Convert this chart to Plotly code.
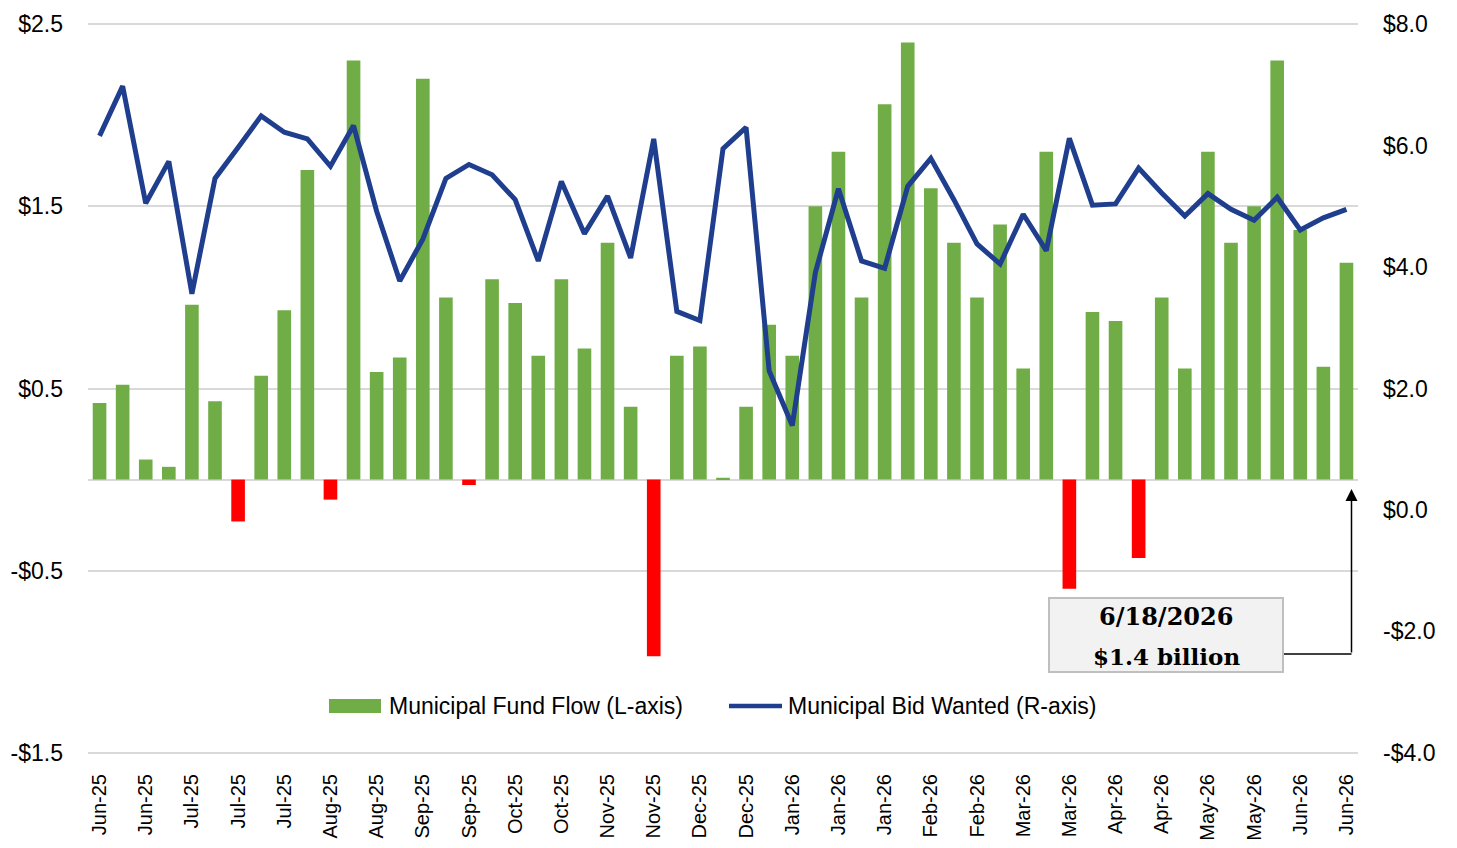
import plotly.graph_objects as go

# ---------------- data ----------------
fund_flow = [0.42, 0.52, 0.11, 0.07, 0.96, 0.43, -0.23, 0.57, 0.93, 1.70,
             -0.11, 2.30, 0.59, 0.67, 2.20, 1.00, -0.03, 1.10, 0.97, 0.68,
             1.10, 0.72, 1.30, 0.40, -0.97, 0.68, 0.73, 0.01, 0.40, 0.85,
             0.68, 1.50, 1.80, 1.00, 2.06, 2.40, 1.60, 1.30, 1.00, 1.40,
             0.61, 1.80, -0.60, 0.92, 0.87, -0.43, 1.00, 0.61, 1.80, 1.30,
             1.50, 2.30, 1.37, 0.62, 1.19]
bid_wanted = [6.16, 6.98, 5.05, 5.74, 3.56, 5.46, 5.97, 6.49, 6.22, 6.11,
              5.66, 6.33, 4.92, 3.77, 4.46, 5.46, 5.69, 5.52, 5.11, 4.10,
              5.41, 4.55, 5.17, 4.15, 6.11, 3.27, 3.12, 5.95, 6.30, 2.29,
              1.39, 3.91, 5.29, 4.10, 3.98, 5.33, 5.79, 5.11, 4.38, 4.05,
              4.87, 4.27, 6.12, 5.02, 5.04, 5.63, 5.22, 4.84, 5.21, 4.95,
              4.77, 5.15, 4.61, 4.81, 4.95]
tick_labels = ["Jun-25", "Jun-25", "Jul-25", "Jul-25", "Jul-25", "Aug-25", "Aug-25",
               "Sep-25", "Sep-25", "Oct-25", "Oct-25", "Nov-25", "Nov-25", "Dec-25",
               "Dec-25", "Jan-26", "Jan-26", "Jan-26", "Feb-26", "Feb-26", "Mar-26",
               "Mar-26", "Apr-26", "Apr-26", "May-26", "May-26", "Jun-26", "Jun-26"]
left_ticks = [-1.5, -0.5, 0.5, 1.5, 2.5]
right_ticks = [-4, -2, 0, 2, 4, 6, 8]
annot_date = "6/18/2026"
annot_value = "$1.4 billion"
series_names = ["Municipal Fund Flow (L-axis)", "Municipal Bid Wanted (R-axis)"]

# ---------------- styling ----------------
GREEN = "#70AD47"
RED = "#FF0000"
BLUE = "#1F3E8E"
GRID = "#D9D9D9"
SANS = "Liberation Sans, Arial, sans-serif"
SERIF = "DejaVu Serif, Liberation Serif, serif"

OFF = 8                      # default body margin of the html page
W, H = 1457 - OFF, 848 - OFF
L, R, T, B = 88, 1358, 22, 755   # plot area in window pixels


def px(xp):
    return (xp - L) / (R - L)


def py(yp):
    return (B - yp) / (B - T)


def money(v, nd):
    s = f"${abs(v):.{nd}f}"
    return "-" + s if v < 0 else s


idx = list(range(len(fund_flow)))
bar_colors = [GREEN if v >= 0 else RED for v in fund_flow]

fig = go.Figure()
fig.add_trace(go.Bar(x=idx, y=fund_flow, marker=dict(color=bar_colors, line=dict(width=0)),
                     width=0.59, name=series_names[0], yaxis="y", xaxis="x"))
fig.add_trace(go.Scatter(x=idx, y=bid_wanted, mode="lines", name=series_names[1],
                         line=dict(color=BLUE, width=5), yaxis="y2", xaxis="x"))

xr = [-0.5, len(idx) - 0.5]
span_l = left_ticks[-1] - left_ticks[0]
span_r = right_ticks[-1] - right_ticks[0]
eps = 0.003
yr_l = [left_ticks[0] - eps * span_l, left_ticks[-1] + eps * span_l]
yr_r = [right_ticks[0] - eps * span_r, right_ticks[-1] + eps * span_r]
zero_pos = (0 - yr_l[0]) / (yr_l[1] - yr_l[0])

fig.update_layout(
    template="none",
    width=W, height=H,
    margin=dict(l=L - OFF, r=1457 - R, t=T - OFF, b=848 - B, pad=0, autoexpand=False),
    paper_bgcolor="white", plot_bgcolor="white",
    showlegend=False,
    xaxis=dict(range=xr, tickmode="array", tickvals=idx[::2], ticktext=tick_labels,
               tickangle=-90, showgrid=False, zeroline=False, showline=False, ticks="",
               automargin=False,
               tickfont=dict(family=SANS, size=20, color="#000000"), ticklabelstandoff=14),
    xaxis2=dict(range=xr, overlaying="x", anchor="free", position=zero_pos,
                tickmode="array", tickvals=idx, ticks="outside", ticklen=6, tickwidth=1.5,
                tickcolor=GRID, showticklabels=False, showgrid=False, zeroline=False,
                showline=False, automargin=False),
    xaxis3=dict(range=xr, overlaying="x", anchor="free", position=zero_pos,
                tickmode="array", tickvals=idx, ticks="inside", ticklen=6, tickwidth=1.5,
                tickcolor=GRID, showticklabels=False, showgrid=False, zeroline=False,
                showline=False, automargin=False),
    yaxis=dict(range=yr_l, tickmode="array", tickvals=left_ticks,
               ticktext=[money(v, 1) for v in left_ticks], showgrid=True, gridcolor=GRID,
               gridwidth=2, zeroline=True, zerolinecolor=GRID, zerolinewidth=2,
               showline=False, ticks="", automargin=False,
               tickfont=dict(family=SANS, size=23, color="#000000"),
               ticklabelstandoff=24),
    yaxis2=dict(range=yr_r, overlaying="y", side="right",
                tickmode="array", tickvals=right_ticks,
                ticktext=[money(v, 1) for v in right_ticks], showgrid=False, zeroline=False,
                showline=False, ticks="", automargin=False,
                tickfont=dict(family=SANS, size=23, color="#000000"),
                ticklabelstandoff=24),
)

# annotation box, connector and arrow
fig.add_shape(type="rect", xref="paper", yref="paper", x0=px(1049), x1=px(1283),
              y0=py(672), y1=py(598), fillcolor="#F2F2F2", line=dict(color="#BFBFBF", width=2))
fig.add_shape(type="line", xref="paper", yref="paper", x0=px(1284), x1=px(1351.5),
              y0=py(654), y1=py(654), line=dict(color="#000000", width=1.5))
fig.add_annotation(xref="paper", yref="paper", x=px(1351.5), y=py(489), ax=0, ay=165,
                   text="", showarrow=True, arrowhead=2, arrowsize=1.6, arrowwidth=1.5,
                   arrowcolor="#000000")
fig.add_annotation(xref="paper", yref="paper", x=px(1166), y=py(616), showarrow=False,
                   text=f"<b>{annot_date}</b>", xanchor="center", yanchor="middle",
                   font=dict(family=SERIF, size=24, color="#000000"))
fig.add_annotation(xref="paper", yref="paper", x=px(1166), y=py(656), showarrow=False,
                   text=f"<b>{annot_value}</b>", xanchor="center", yanchor="middle",
                   font=dict(family=SERIF, size=23, color="#000000"))

# custom legend
fig.add_shape(type="rect", xref="paper", yref="paper", x0=px(329), x1=px(381),
              y0=py(713), y1=py(699), fillcolor=GREEN, line=dict(width=0))
fig.add_shape(type="line", xref="paper", yref="paper", x0=px(729), x1=px(782),
              y0=py(706), y1=py(706), line=dict(color=BLUE, width=4.5))
fig.add_annotation(xref="paper", yref="paper", x=px(387), y=py(706), showarrow=False,
                   text=series_names[0], xanchor="left", yanchor="middle",
                   font=dict(family=SANS, size=23, color="#000000"))
fig.add_annotation(xref="paper", yref="paper", x=px(786), y=py(706), showarrow=False,
                   text=series_names[1], xanchor="left", yanchor="middle",
                   font=dict(family=SANS, size=23, color="#000000"))

fig.write_html("out.html")
